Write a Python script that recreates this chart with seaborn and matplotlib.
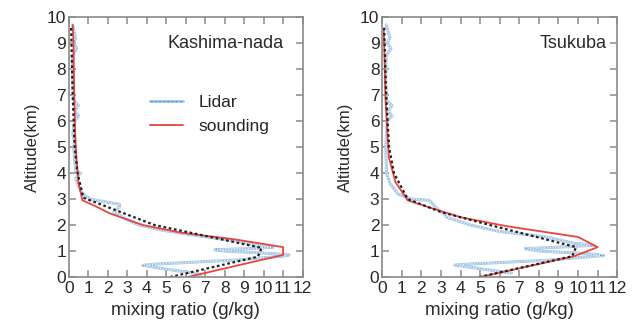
import seaborn as sns
import pandas as pd
import matplotlib.pyplot as plt
from matplotlib.lines import Line2D

# Kashima-nada
kas_lidar_alt = [0.1, 0.2, 0.3, 0.45, 0.5, 0.65, 0.8, 0.85, 0.9, 1.0, 1.05, 1.1, 1.15, 1.2, 1.4, 1.6, 1.8, 2.0,
                 2.2, 2.5, 2.7, 2.8, 2.9, 3.0, 3.2, 3.5, 3.8, 4.0, 4.1, 4.5, 5.0, 5.2, 5.5, 6.0, 6.2, 6.4, 6.6,
                 6.8, 7.5, 8.5, 8.8, 9.0, 9.2, 9.7]
kas_lidar_mr = [6.8, 6.0, 5.0, 3.8, 4.5, 8.5, 11.0, 11.3, 10.5, 8.0, 7.5, 9.5, 10.5, 9.8, 8.5, 6.5, 4.8, 3.6,
                3.0, 2.3, 2.6, 2.6, 1.8, 1.1, 0.7, 0.5, 0.35, 0.6, 0.35, 0.3, 0.25, 0.3, 0.2, 0.3, 0.5, 0.3, 0.5,
                0.25, 0.2, 0.2, 0.4, 0.25, 0.35, 0.2]
kas_sond_alt = [0.0, 0.85, 1.15, 1.45, 1.7, 2.0, 2.45, 2.75, 2.95, 3.6, 4.5, 5.5, 7.0, 9.0, 9.7]
kas_sond_mr = [6.1, 11.0, 11.0, 8.5, 5.8, 3.8, 2.1, 1.3, 0.7, 0.5, 0.4, 0.33, 0.28, 0.24, 0.2]
kas_fit_alt = [0.0, 0.78, 1.12, 2.0, 3.05, 4.0, 5.0, 7.0, 9.6]
kas_fit_mr = [5.2, 9.7, 9.9, 4.4, 0.75, 0.45, 0.3, 0.2, 0.12]

# Tsukuba
tsu_lidar_alt = [0.15, 0.3, 0.46, 0.5, 0.65, 0.83, 0.9, 1.0, 1.09, 1.15, 1.22, 1.3, 1.55, 1.75, 2.0, 2.3, 2.4,
                 2.5, 2.7, 2.8, 2.95, 3.0, 3.2, 3.6, 4.0, 4.5, 5.0, 5.5, 6.0, 6.2, 6.4, 6.6, 6.8, 7.5, 8.5, 8.8,
                 9.0, 9.2, 9.7]
tsu_lidar_mr = [6.6, 5.2, 3.7, 4.5, 8.5, 11.3, 10.5, 8.0, 7.3, 9.0, 10.8, 9.8, 8.3, 6.0, 4.5, 3.3, 3.2,
                3.0, 2.7, 2.6, 2.4, 1.5, 0.8, 0.4, 0.22, 0.2, 0.18, 0.22, 0.25, 0.5, 0.3, 0.5, 0.22, 0.18, 0.2,
                0.45, 0.25, 0.4, 0.2]
tsu_sond_alt = [0.0, 0.8, 1.15, 1.54, 1.95, 2.3, 2.63, 2.95, 3.65, 4.6, 6.8, 9.5]
tsu_sond_mr = [5.0, 9.8, 11.0, 10.0, 6.4, 4.0, 2.6, 1.3, 0.68, 0.34, 0.17, 0.08]
tsu_fit_alt = [0.0, 0.8, 1.15, 2.0, 2.5, 3.0, 4.0, 5.0, 7.0, 9.6]
tsu_fit_mr = [4.95, 9.7, 9.9, 5.5, 3.0, 1.3, 0.6, 0.35, 0.2, 0.1]

x_ticks = list(range(0, 13))
y_ticks = list(range(0, 11))

sns.set_style("ticks")
plt.rcParams['font.family'] = ['Liberation Sans', 'DejaVu Sans']

lidar_light = '#a9cbea'
lidar_dark = '#4a82bf'
red = '#e8453c'
axis_grey = '#8a8a8a'
txt = '#2a2a2a'

fig = plt.figure(figsize=(6.37, 3.29), dpi=100)
ax1 = fig.add_axes([0.108, 0.158, 0.367, 0.79])
ax2 = fig.add_axes([0.600, 0.158, 0.369, 0.79])


def draw_panel(ax, l_mr, l_alt, s_mr, s_alt, f_mr, f_alt, name, name_x):
    lid = pd.DataFrame({'mr': l_mr, 'alt': l_alt})
    snd = pd.DataFrame({'mr': s_mr, 'alt': s_alt})
    fit = pd.DataFrame({'mr': f_mr, 'alt': f_alt})
    sns.lineplot(data=lid, x='mr', y='alt', sort=False, estimator=None, color=lidar_light, lw=2.2, ax=ax)
    sns.lineplot(data=lid, x='mr', y='alt', sort=False, estimator=None, color='white', lw=0.8, ax=ax)
    sns.lineplot(data=lid, x='mr', y='alt', sort=False, estimator=None, color=lidar_dark, lw=0.4,
                 ls=(0, (3, 2)), ax=ax)
    sns.lineplot(data=snd, x='mr', y='alt', sort=False, estimator=None, color=red, lw=1.3, ax=ax)
    sns.lineplot(data=fit, x='mr', y='alt', sort=False, estimator=None, color='#222222', lw=1.6,
                 ls=(0, (1.2, 1.2)), ax=ax)
    ax.set_xlim(0, 12)
    ax.set_ylim(0, 10)
    ax.set_xticks(x_ticks)
    ax.set_yticks(y_ticks)
    ax.tick_params(direction='in', length=5, width=1.1, color=axis_grey, labelsize=12.5,
                   top=True, right=True, labelcolor=txt)
    ax.tick_params(axis='x', pad=3)
    ax.tick_params(axis='y', pad=2)
    for sp in ax.spines.values():
        sp.set_color(axis_grey)
        sp.set_linewidth(1.2)
    ax.set_xlabel('mixing ratio (g/kg)', fontsize=13.5, labelpad=4, color=txt)
    ax.set_ylabel('Altitude(km)', fontsize=12, labelpad=5, color=txt)
    ax.text(name_x, 0.90, name, transform=ax.transAxes, ha='right', va='center', fontsize=13,
            color=txt)


draw_panel(ax1, kas_lidar_mr, kas_lidar_alt, kas_sond_mr, kas_sond_alt, kas_fit_mr, kas_fit_alt,
           'Kashima-nada', 0.92)
draw_panel(ax2, tsu_lidar_mr, tsu_lidar_alt, tsu_sond_mr, tsu_sond_alt, tsu_fit_mr, tsu_fit_alt,
           'Tsukuba', 0.955)

h_lidar = (Line2D([], [], color=lidar_light, lw=2.2),
           Line2D([], [], color=lidar_dark, lw=0.6, ls=(0, (3, 2))))
h_sond = Line2D([], [], color=red, lw=1.3)
ax1.legend([h_lidar, h_sond], ['Lidar', 'sounding'], loc='upper left', bbox_to_anchor=(0.28, 0.76),
           frameon=False, fontsize=12.5, handlelength=1.9, handletextpad=0.9, labelspacing=0.5)

fig.savefig('out.png', dpi=100)
